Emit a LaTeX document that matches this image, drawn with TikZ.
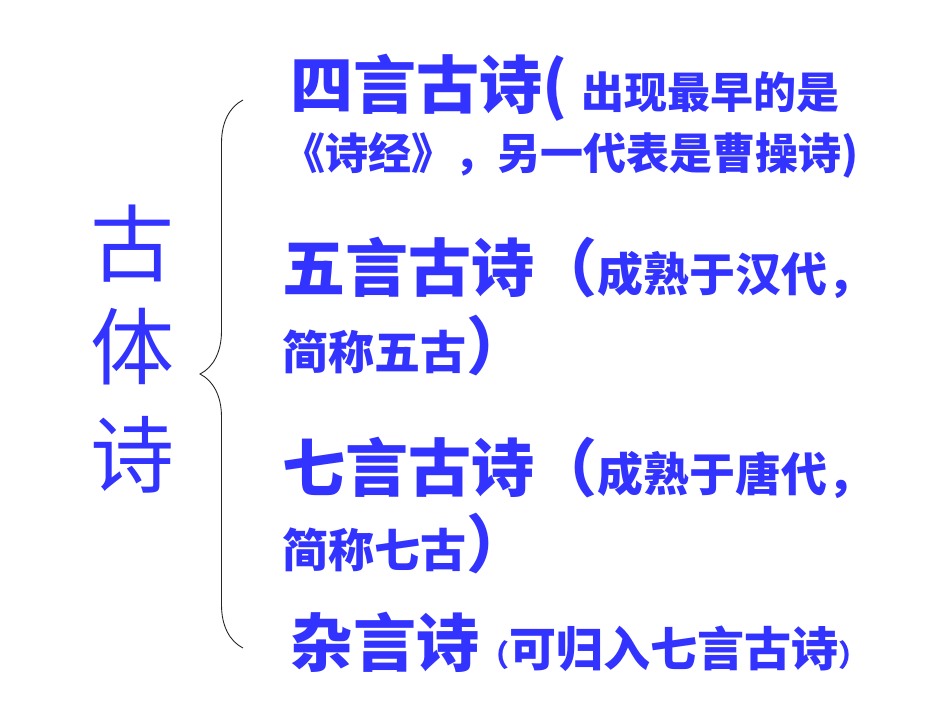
\documentclass[tikz,border=0pt]{standalone}
\usepackage{fontspec}
\usetikzlibrary{decorations.pathreplacing}
\newfontfamily\cjk{Noto Sans CJK SC}
\definecolor{poemblue}{RGB}{51,51,255}
\newcommand\titlesize{\fontsize{63}{63}\selectfont}
\newcommand\notesize{\fontsize{43}{43}\selectfont}
\newcommand\midsize{\fontsize{46}{46}\selectfont}
\newcommand\parensize{\fontsize{30}{30}\selectfont}

\begin{document}
\begin{tikzpicture}[x=1pt, y=-1pt,
  leftchar/.style={inner sep=0pt, text=poemblue, font=\cjk\fontsize{84}{84}\selectfont},
  poemline/.style={inner sep=0pt, anchor=base west, text=poemblue, font=\cjk\bfseries}]

  \useasboundingbox (0,0) rectangle (950,713);

  % the name on the left
  \node[leftchar] (gu)  at (132,244) {古};
  \node[leftchar] (ti)  at (132,347) {体};
  \node[leftchar] (shi) at (132,455) {诗};

  % the brace
  \coordinate (braceTop) at (243,100);
  \coordinate (braceBot) at (243,648);
  \draw[decorate, decoration={brace, amplitude=43pt}, line width=0.9pt, draw=black!85]
    (braceBot) -- (braceTop);

  % the four kinds
  \node[poemline] (siyan)  at (290,108) {{\titlesize 四言古诗(}\hspace{14pt}{\notesize 出现最早的是}};
  \node[poemline] (siyanb) at (282,169) {\notesize 《诗经》，另一代表是曹操诗)};

  \node[poemline] (wuyan)  at (282,291) {{\titlesize 五言古诗（}{\midsize 成熟于汉代，}};
  \node[poemline] (wuyanb) at (282,369) {{\midsize 简称五古}{\titlesize ）}};

  \node[poemline] (qiyan)  at (282,491) {{\titlesize 七言古诗（}{\midsize 成熟于唐代，}};
  \node[poemline] (qiyanb) at (282,567) {{\midsize 简称七古}{\titlesize ）}};

  \node[poemline] (zayan)  at (290,666) {{\titlesize 杂言诗}{\parensize （}{\fontsize{47}{47}\selectfont 可归入七言古诗}{\parensize ）}};

\end{tikzpicture}
\end{document}
